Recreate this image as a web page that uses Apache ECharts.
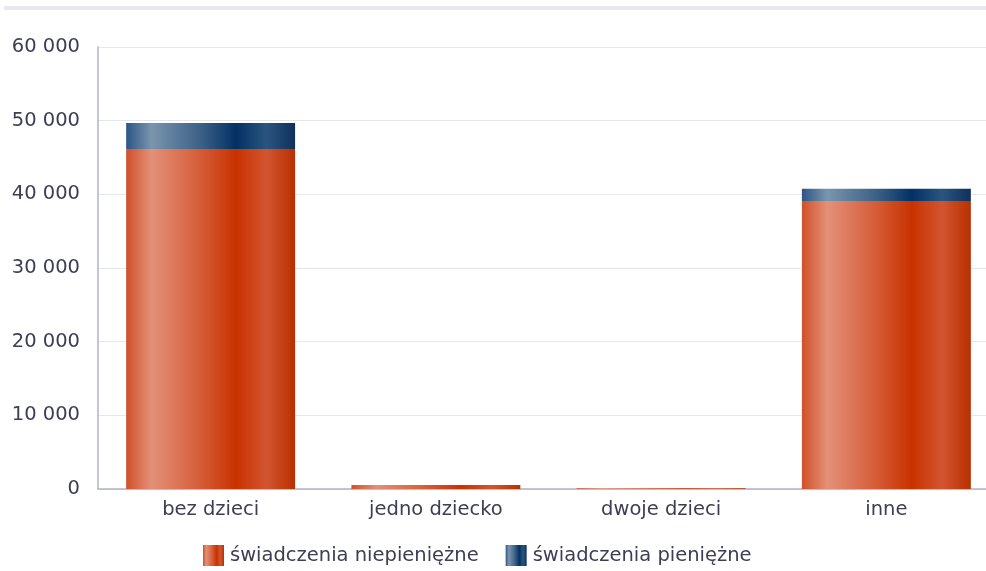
<!DOCTYPE html>
<html><head><meta charset="utf-8">
<script src="https://cdn.jsdelivr.net/npm/echarts@6/dist/echarts.min.js"></script>
<style>html,body{margin:0;padding:0;background:#fff}#c{width:986px;height:571px}</style>
</head><body><div id="c"></div>
<script>
var categories = ['bez dzieci', 'jedno dziecko', 'dwoje dzieci', 'inne'];
var seriesNames = ['świadczenia niepieniężne', 'świadczenia pieniężne'];
var niepieniezne = [46150, 550, 90, 39100];
var pieniezne = [3550, 0, 0, 1650];
var yTicks = [0, 10000, 20000, 30000, 40000, 50000, 60000];

function grad(stops){
  return new echarts.graphic.LinearGradient(0,0,1,0, stops.map(function(s){return {offset:s[0],color:s[1]};}));
}
var orange = grad([[0,'#d0502a'],[0.15,'#e39078'],[0.45,'#d55a35'],[0.65,'#c83200'],[0.83,'#d35530'],[1,'#b83000']]);
var blue = grad([[0,'#2c5585'],[0.15,'#7a95ad'],[0.45,'#3a5f85'],[0.65,'#033165'],[0.83,'#2a5580'],[1,'#10305a']]);
var font = 'DejaVu Sans';
var fs = 19.5;
var chart = echarts.init(document.getElementById('c'));
chart.setOption({
  animation:false,
  graphic:[{type:'rect',left:4,top:6,shape:{width:982,height:4},style:{fill:'#e8e8ee'}}],
  grid:{left:98,top:47,width:901,height:442,containLabel:false,outerBoundsMode:'none'},
  legend:{top:545,left:203,padding:0,itemWidth:21,itemHeight:21,itemGap:27,icon:'rect',
    textStyle:{fontFamily:font,fontSize:fs,color:'#3d3d55',padding:[0,0,0,1]},
    data:seriesNames},
  xAxis:{type:'category',data:categories,
    axisLine:{lineStyle:{color:'#b0b3c8',width:1.5}},axisTick:{show:false},
    axisLabel:{fontFamily:font,fontSize:fs,color:'#3d3d55',margin:11}},
  yAxis:{type:'value',min:0,max:60000,interval:10000,
    axisLine:{show:true,lineStyle:{color:'#b0b3c8',width:1.5}},axisTick:{show:false},
    splitLine:{lineStyle:{color:'#e6e6ee'}},
    axisLabel:{fontFamily:font,fontSize:fs,color:'#3d3d55',margin:18,
      formatter:function(v){return String(v).replace(/\B(?=(\d{3})+(?!\d))/g,' ');}}},
  series:[
    {name:seriesNames[0],type:'bar',stack:'a',barWidth:'75%',data:niepieniezne,itemStyle:{color:orange}},
    {name:seriesNames[1],type:'bar',stack:'a',barWidth:'75%',data:pieniezne,itemStyle:{color:blue}}
  ]
});
</script></body></html>
